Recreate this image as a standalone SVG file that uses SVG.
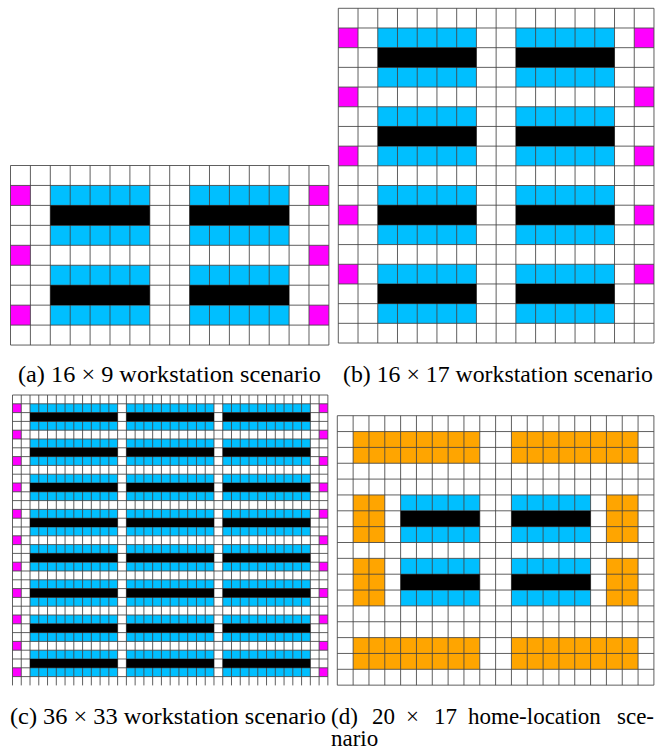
<svg xmlns="http://www.w3.org/2000/svg" width="668" height="751" viewBox="0 0 668 751">
<style>
.bg{fill:#fff}
.m{fill:#f0f}
.b{fill:#00bfff}
.k{fill:#000}
.o{fill:#ffa500}
.g{fill:none;stroke:#444;stroke-width:1;stroke-opacity:.85}
text{font-family:"Liberation Serif","Times New Roman",serif;font-size:23px;fill:#000}
</style>
<defs>
<g id="cb" class="b"><rect x="30.02" width="87.6" height="8.8"/><rect x="126.38" width="87.6" height="8.8"/><rect x="222.74" width="87.6" height="8.8"/></g>
<g id="ck" class="k"><rect x="30.02" width="87.6" height="8.8"/><rect x="126.38" width="87.6" height="8.8"/><rect x="222.74" width="87.6" height="8.8"/></g>
<g id="cm" class="m"><rect x="12.5" width="8.76" height="8.8"/><rect x="319.1" width="8.76" height="8.8"/></g>
</defs>
<rect class="bg" width="668" height="751"/>

<g id="panel-a">
<g class="m">
<rect x="10.5" y="185.45" width="19.9" height="19.95"/><rect x="10.5" y="245.3" width="19.9" height="19.95"/><rect x="10.5" y="305.15" width="19.9" height="19.95"/>
<rect x="309" y="185.45" width="19.9" height="19.95"/><rect x="309" y="245.3" width="19.9" height="19.95"/><rect x="309" y="305.15" width="19.9" height="19.95"/>
</g>
<g class="b">
<rect x="50.3" y="185.45" width="99.5" height="19.95"/><rect x="50.3" y="225.35" width="99.5" height="19.95"/><rect x="50.3" y="265.25" width="99.5" height="19.95"/><rect x="50.3" y="305.15" width="99.5" height="19.95"/>
<rect x="189.6" y="185.45" width="99.5" height="19.95"/><rect x="189.6" y="225.35" width="99.5" height="19.95"/><rect x="189.6" y="265.25" width="99.5" height="19.95"/><rect x="189.6" y="305.15" width="99.5" height="19.95"/>
</g>
<path class="g" d="M10.5 165.5v179.55m19.9-179.55v179.55m19.9-179.55v179.55m19.9-179.55v179.55m19.9-179.55v179.55m19.9-179.55v179.55m19.9-179.55v179.55m19.9-179.55v179.55m19.9-179.55v179.55m19.9-179.55v179.55m19.9-179.55v179.55m19.9-179.55v179.55m19.9-179.55v179.55m19.9-179.55v179.55m19.9-179.55v179.55m19.9-179.55v179.55m19.9-179.55v179.55"/>
<path class="g" d="M10.5 165.5h318.4m-318.4 19.95h318.4m-318.4 19.95h318.4m-318.4 19.95h318.4m-318.4 19.95h318.4m-318.4 19.95h318.4m-318.4 19.95h318.4m-318.4 19.95h318.4m-318.4 19.95h318.4m-318.4 19.95h318.4"/>
<g class="k">
<rect x="50.3" y="205.4" width="99.5" height="19.95"/><rect x="50.3" y="285.2" width="99.5" height="19.95"/>
<rect x="189.6" y="205.4" width="99.5" height="19.95"/><rect x="189.6" y="285.2" width="99.5" height="19.95"/>
</g>
<text x="18" y="382" textLength="303" lengthAdjust="spacingAndGlyphs">(a) 16 × 9 workstation scenario</text>
</g>

<g id="panel-b">
<g class="m">
<rect x="338.3" y="27.99" width="19.73" height="19.69"/><rect x="338.3" y="87.06" width="19.73" height="19.69"/><rect x="338.3" y="146.13" width="19.73" height="19.69"/><rect x="338.3" y="205.2" width="19.73" height="19.69"/><rect x="338.3" y="264.27" width="19.73" height="19.69"/>
<rect x="634.25" y="27.99" width="19.73" height="19.69"/><rect x="634.25" y="87.06" width="19.73" height="19.69"/><rect x="634.25" y="146.13" width="19.73" height="19.69"/><rect x="634.25" y="205.2" width="19.73" height="19.69"/><rect x="634.25" y="264.27" width="19.73" height="19.69"/>
</g>
<g class="b">
<rect x="377.76" y="27.99" width="98.65" height="19.69"/><rect x="377.76" y="67.37" width="98.65" height="19.69"/><rect x="377.76" y="106.75" width="98.65" height="19.69"/><rect x="377.76" y="146.13" width="98.65" height="19.69"/><rect x="377.76" y="185.51" width="98.65" height="19.69"/><rect x="377.76" y="224.89" width="98.65" height="19.69"/><rect x="377.76" y="264.27" width="98.65" height="19.69"/><rect x="377.76" y="303.65" width="98.65" height="19.69"/>
<rect x="515.87" y="27.99" width="98.65" height="19.69"/><rect x="515.87" y="67.37" width="98.65" height="19.69"/><rect x="515.87" y="106.75" width="98.65" height="19.69"/><rect x="515.87" y="146.13" width="98.65" height="19.69"/><rect x="515.87" y="185.51" width="98.65" height="19.69"/><rect x="515.87" y="224.89" width="98.65" height="19.69"/><rect x="515.87" y="264.27" width="98.65" height="19.69"/><rect x="515.87" y="303.65" width="98.65" height="19.69"/>
</g>
<path class="g" d="M338.3 8.3v334.73m19.73-334.73v334.73m19.73-334.73v334.73m19.73-334.73v334.73m19.73-334.73v334.73m19.73-334.73v334.73m19.73-334.73v334.73m19.73-334.73v334.73m19.73-334.73v334.73m19.73-334.73v334.73m19.73-334.73v334.73m19.73-334.73v334.73m19.73-334.73v334.73m19.73-334.73v334.73m19.73-334.73v334.73m19.73-334.73v334.73m19.73-334.73v334.73"/>
<path class="g" d="M338.3 8.3h315.68m-315.68 19.69h315.68m-315.68 19.69h315.68m-315.68 19.69h315.68m-315.68 19.69h315.68m-315.68 19.69h315.68m-315.68 19.69h315.68m-315.68 19.69h315.68m-315.68 19.69h315.68m-315.68 19.69h315.68m-315.68 19.69h315.68m-315.68 19.69h315.68m-315.68 19.69h315.68m-315.68 19.69h315.68m-315.68 19.69h315.68m-315.68 19.69h315.68m-315.68 19.69h315.68m-315.68 19.69h315.68"/>
<g class="k">
<rect x="377.76" y="47.68" width="98.65" height="19.69"/><rect x="377.76" y="126.44" width="98.65" height="19.69"/><rect x="377.76" y="205.2" width="98.65" height="19.69"/><rect x="377.76" y="283.96" width="98.65" height="19.69"/>
<rect x="515.87" y="47.68" width="98.65" height="19.69"/><rect x="515.87" y="126.44" width="98.65" height="19.69"/><rect x="515.87" y="205.2" width="98.65" height="19.69"/><rect x="515.87" y="283.96" width="98.65" height="19.69"/>
</g>
<text x="343" y="382" textLength="310" lengthAdjust="spacingAndGlyphs">(b) 16 × 17 workstation scenario</text>
</g>

<g id="panel-c">
<use href="#cm" y="403.8"/><use href="#cm" y="430.2"/><use href="#cm" y="456.6"/><use href="#cm" y="483"/><use href="#cm" y="509.4"/><use href="#cm" y="535.8"/><use href="#cm" y="562.2"/><use href="#cm" y="588.6"/><use href="#cm" y="615"/><use href="#cm" y="641.4"/><use href="#cm" y="667.8"/>
<use href="#cb" y="403.8"/><use href="#cb" y="421.4"/><use href="#cb" y="439"/><use href="#cb" y="456.6"/><use href="#cb" y="474.2"/><use href="#cb" y="491.8"/><use href="#cb" y="509.4"/><use href="#cb" y="527"/><use href="#cb" y="544.6"/><use href="#cb" y="562.2"/><use href="#cb" y="579.8"/><use href="#cb" y="597.4"/><use href="#cb" y="615"/><use href="#cb" y="632.6"/><use href="#cb" y="650.2"/><use href="#cb" y="667.8"/>
<path class="g" d="M12.5 395v290.4m8.76-290.4v290.4m8.76-290.4v290.4m8.76-290.4v290.4m8.76-290.4v290.4m8.76-290.4v290.4m8.76-290.4v290.4m8.76-290.4v290.4m8.76-290.4v290.4m8.76-290.4v290.4m8.76-290.4v290.4m8.76-290.4v290.4m8.76-290.4v290.4m8.76-290.4v290.4m8.76-290.4v290.4m8.76-290.4v290.4m8.76-290.4v290.4m8.76-290.4v290.4m8.76-290.4v290.4m8.76-290.4v290.4m8.76-290.4v290.4m8.76-290.4v290.4m8.76-290.4v290.4m8.76-290.4v290.4m8.76-290.4v290.4m8.76-290.4v290.4m8.76-290.4v290.4m8.76-290.4v290.4m8.76-290.4v290.4m8.76-290.4v290.4m8.76-290.4v290.4m8.76-290.4v290.4m8.76-290.4v290.4m8.76-290.4v290.4m8.76-290.4v290.4m8.76-290.4v290.4m8.76-290.4v290.4"/>
<path class="g" d="M12.5 395h315.36m-315.36 8.8h315.36m-315.36 8.8h315.36m-315.36 8.8h315.36m-315.36 8.8h315.36m-315.36 8.8h315.36m-315.36 8.8h315.36m-315.36 8.8h315.36m-315.36 8.8h315.36m-315.36 8.8h315.36m-315.36 8.8h315.36m-315.36 8.8h315.36m-315.36 8.8h315.36m-315.36 8.8h315.36m-315.36 8.8h315.36m-315.36 8.8h315.36m-315.36 8.8h315.36m-315.36 8.8h315.36m-315.36 8.8h315.36m-315.36 8.8h315.36m-315.36 8.8h315.36m-315.36 8.8h315.36m-315.36 8.8h315.36m-315.36 8.8h315.36m-315.36 8.8h315.36m-315.36 8.8h315.36m-315.36 8.8h315.36m-315.36 8.8h315.36m-315.36 8.8h315.36m-315.36 8.8h315.36m-315.36 8.8h315.36m-315.36 8.8h315.36m-315.36 8.8h315.36"/>
<use href="#ck" y="412.6"/><use href="#ck" y="447.8"/><use href="#ck" y="483"/><use href="#ck" y="518.2"/><use href="#ck" y="553.4"/><use href="#ck" y="588.6"/><use href="#ck" y="623.8"/><use href="#ck" y="659"/>
<text x="10" y="724" textLength="316" lengthAdjust="spacingAndGlyphs">(c) 36 × 33 workstation scenario</text>
</g>

<g id="panel-d">
<g class="o">
<rect x="353.13" y="431.55" width="126.64" height="31.7"/><rect x="511.43" y="431.55" width="126.64" height="31.7"/>
<rect x="353.13" y="637.6" width="126.64" height="31.7"/><rect x="511.43" y="637.6" width="126.64" height="31.7"/>
<rect x="353.13" y="494.95" width="31.66" height="47.55"/><rect x="353.13" y="558.35" width="31.66" height="47.55"/>
<rect x="606.41" y="494.95" width="31.66" height="47.55"/><rect x="606.41" y="558.35" width="31.66" height="47.55"/>
</g>
<g class="b">
<rect x="400.62" y="494.95" width="79.15" height="15.85"/><rect x="400.62" y="526.65" width="79.15" height="15.85"/><rect x="400.62" y="558.35" width="79.15" height="15.85"/><rect x="400.62" y="590.05" width="79.15" height="15.85"/>
<rect x="511.43" y="494.95" width="79.15" height="15.85"/><rect x="511.43" y="526.65" width="79.15" height="15.85"/><rect x="511.43" y="558.35" width="79.15" height="15.85"/><rect x="511.43" y="590.05" width="79.15" height="15.85"/>
</g>
<path class="g" d="M337.3 415.7v269.45m15.83-269.45v269.45m15.83-269.45v269.45m15.83-269.45v269.45m15.83-269.45v269.45m15.83-269.45v269.45m15.83-269.45v269.45m15.83-269.45v269.45m15.83-269.45v269.45m15.83-269.45v269.45m15.83-269.45v269.45m15.83-269.45v269.45m15.83-269.45v269.45m15.83-269.45v269.45m15.83-269.45v269.45m15.83-269.45v269.45m15.83-269.45v269.45m15.83-269.45v269.45m15.83-269.45v269.45m15.83-269.45v269.45m15.83-269.45v269.45"/>
<path class="g" d="M337.3 415.7h316.6m-316.6 15.85h316.6m-316.6 15.85h316.6m-316.6 15.85h316.6m-316.6 15.85h316.6m-316.6 15.85h316.6m-316.6 15.85h316.6m-316.6 15.85h316.6m-316.6 15.85h316.6m-316.6 15.85h316.6m-316.6 15.85h316.6m-316.6 15.85h316.6m-316.6 15.85h316.6m-316.6 15.85h316.6m-316.6 15.85h316.6m-316.6 15.85h316.6m-316.6 15.85h316.6m-316.6 15.85h316.6"/>
<g class="k">
<rect x="400.62" y="510.8" width="79.15" height="15.85"/><rect x="400.62" y="574.2" width="79.15" height="15.85"/>
<rect x="511.43" y="510.8" width="79.15" height="15.85"/><rect x="511.43" y="574.2" width="79.15" height="15.85"/>
</g>
<text y="724"><tspan x="331">(d)</tspan><tspan x="372">20</tspan><tspan x="406">×</tspan><tspan x="434">17</tspan><tspan x="468">home-location</tspan><tspan x="617">sce-</tspan></text>
<text x="331" y="746">nario</text>
</g>
</svg>
